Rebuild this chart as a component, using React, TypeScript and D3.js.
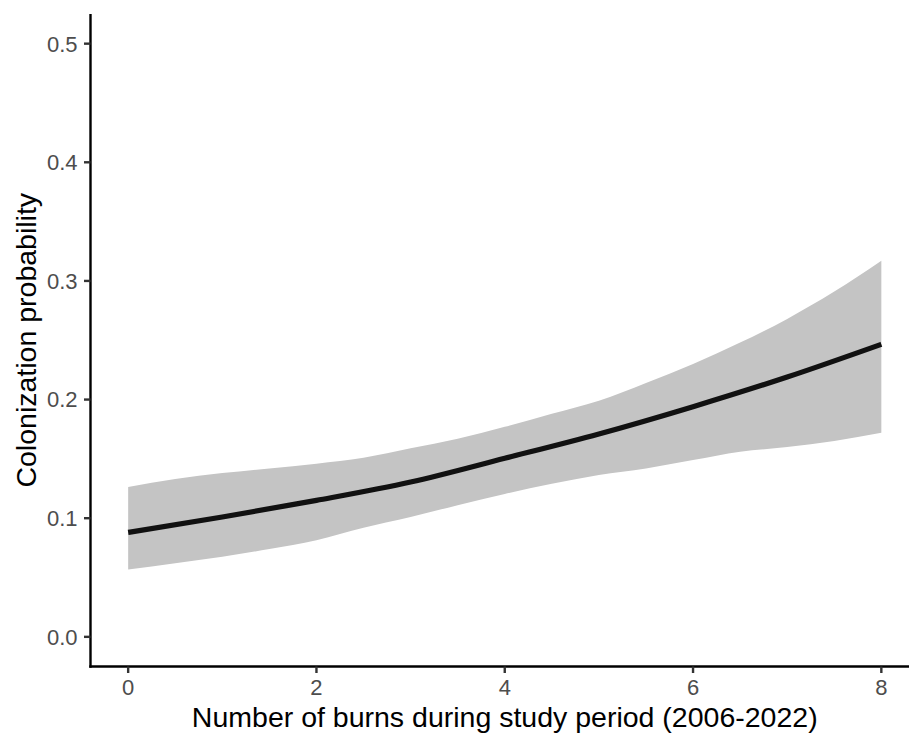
import React from "react";
import * as d3 from "d3";

const lineX = [0, 1, 2, 3, 4, 5, 6, 7, 8];
const lineY = [0.088, 0.101, 0.115, 0.1305, 0.1505, 0.171, 0.194, 0.219, 0.2466];

const bandX = [0, 0.5, 1, 1.5, 2, 2.5, 3, 3.5, 4, 4.5, 5, 5.5, 6, 6.5, 7, 7.5, 8];
const bandUpper = [0.1264, 0.133, 0.138, 0.142, 0.146, 0.151, 0.159, 0.167, 0.177, 0.188, 0.199, 0.214, 0.23, 0.248, 0.268, 0.291, 0.317];
const bandLower = [0.0567, 0.062, 0.0675, 0.074, 0.0815, 0.092, 0.101, 0.111, 0.1205, 0.129, 0.1365, 0.142, 0.149, 0.156, 0.16, 0.165, 0.172];

const xTicks = [0, 2, 4, 6, 8];
const yTicks = [0.0, 0.1, 0.2, 0.3, 0.4, 0.5];

const xTitle = "Number of burns during study period (2006-2022)";
const yTitle = "Colonization probability";

const W = 909;
const H = 734;
const left = 90.5;
const right = 919;
const top = 14;
const bottom = 666.5;

export default function App() {
  const x = d3.scaleLinear().domain([-0.4, 8.4]).range([left, right]);
  const y = d3.scaleLinear().domain([-0.025, 0.525]).range([bottom, top]);

  const band = bandX.map((v, i) => ({ x: v, lo: bandLower[i], hi: bandUpper[i] }));
  const area = d3
    .area<{ x: number; lo: number; hi: number }>()
    .x((d) => x(d.x))
    .y0((d) => y(d.lo))
    .y1((d) => y(d.hi))
    .curve(d3.curveMonotoneX);

  const pts = lineX.map((v, i) => ({ x: v, y: lineY[i] }));
  const line = d3
    .line<{ x: number; y: number }>()
    .x((d) => x(d.x))
    .y((d) => y(d.y))
    .curve(d3.curveMonotoneX);

  const font = "'Liberation Sans', Arial, Helvetica, sans-serif";

  return (
    <svg
      width={W}
      height={H}
      style={{ position: "absolute", left: 0, top: 0, background: "#fff" }}
      fontFamily={font}
    >
      <rect x={0} y={0} width={W} height={H} fill="#fff" />
      <path d={area(band) || ""} fill="#C4C4C4" />
      <path d={line(pts) || ""} fill="none" stroke="#111111" strokeWidth={5.2} />

      {/* y axis */}
      <line x1={left} x2={left} y1={top} y2={bottom + 1.2} stroke="#000" strokeWidth={2.4} />
      {yTicks.map((t) => (
        <g key={"y" + t}>
          <line x1={left - 6.5} x2={left} y1={y(t)} y2={y(t)} stroke="#333" strokeWidth={2.4} />
          <text
            x={77.5}
            y={y(t)}
            dy="0.36em"
            textAnchor="end"
            fontSize={22}
            fill="#4D4D4D"
          >
            {t.toFixed(1)}
          </text>
        </g>
      ))}

      {/* x axis */}
      <line x1={left - 1.2} x2={right} y1={bottom} y2={bottom} stroke="#000" strokeWidth={2.4} />
      {xTicks.map((t) => (
        <g key={"x" + t}>
          <line x1={x(t)} x2={x(t)} y1={bottom} y2={bottom + 6.5} stroke="#333" strokeWidth={2.4} />
          <text x={x(t)} y={695} textAnchor="middle" fontSize={22} fill="#4D4D4D">
            {t}
          </text>
        </g>
      ))}

      <text x={(left + right) / 2} y={727} textAnchor="middle" fontSize={28.5} fill="#000">
        {xTitle}
      </text>
      <text
        transform={`translate(35.5, ${(top + bottom) / 2}) rotate(-90)`}
        textAnchor="middle"
        fontSize={28.5}
        fill="#000"
      >
        {yTitle}
      </text>
    </svg>
  );
}
